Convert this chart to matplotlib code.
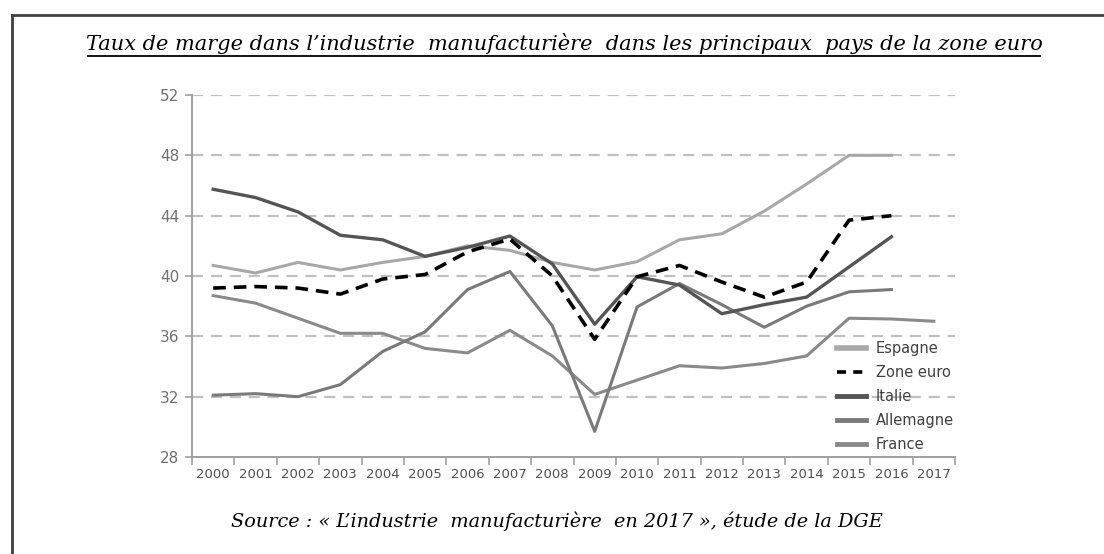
import numpy as np
import matplotlib
matplotlib.use('Agg')
import matplotlib.pyplot as plt
from matplotlib.lines import Line2D

years = ['2000', '2001', '2002', '2003', '2004', '2005', '2006', '2007', '2008',
         '2009', '2010', '2011', '2012', '2013', '2014', '2015', '2016', '2017']

espagne = [40.7, 40.2, 40.9, 40.4, 40.9, 41.3, 42.0, 41.7, 40.9, 40.4, 40.95,
           42.4, 42.8, 44.3, 46.1, 48.0, 48.0]
zone_euro = [39.2, 39.3, 39.2, 38.8, 39.8, 40.1, 41.6, 42.45, 40.0, 35.8, 39.95,
             40.7, 39.6, 38.6, 39.6, 43.7, 44.0]
italie = [45.75, 45.2, 44.25, 42.7, 42.4, 41.3, 41.9, 42.65, 40.8, 36.8, 39.95,
          39.4, 37.5, 38.1, 38.6, 40.6, 42.6]
allemagne = [32.1, 32.2, 32.0, 32.8, 35.0, 36.3, 39.1, 40.3, 36.7, 29.7, 37.95,
             39.5, 38.1, 36.6, 38.0, 38.95, 39.1]
france = [38.7, 38.2, 37.2, 36.2, 36.2, 35.2, 34.9, 36.4, 34.7, 32.15, 33.1,
          34.05, 33.9, 34.2, 34.7, 37.2, 37.15, 37.0]

yticks = [28, 32, 36, 40, 44, 48, 52]

title = "Taux de marge dans l\u2019industrie  manufacturi\u00e8re  dans les principaux  pays de la zone euro"
source = "Source : \u00ab L\u2019industrie  manufacturi\u00e8re  en 2017 \u00bb, \u00e9tude de la DGE"

serif_it = dict(family='DejaVu Serif', style='italic')

fig = plt.figure(figsize=(11.04, 5.54), dpi=100)
ax = fig.add_axes([192 / 1104, 1 - 457 / 554, (955 - 192) / 1104, (457 - 95) / 554])

c_grid = '#c0c0c0'
c_axis = '#a0a0a0'

for v in yticks[1:]:
    ax.axhline(v, color=c_grid, lw=1.6, ls=(0, (5, 3.5)), zorder=0)

x = np.arange(len(years))
ax.plot(x[:len(france)], france, color='#8a8a8a', lw=2.2, label='France', zorder=2)
ax.plot(x[:len(allemagne)], allemagne, color='#7a7a7a', lw=2.2, label='Allemagne', zorder=2)
ax.plot(x[:len(espagne)], espagne, color='#a8a8a8', lw=2.2, label='Espagne', zorder=2)
ax.plot(x[:len(italie)], italie, color='#555555', lw=2.4, label='Italie', zorder=3)
ax.plot(x[:len(zone_euro)], zone_euro, color='black', lw=2.6, ls=(0, (3.5, 2.2)),
        label='Zone euro', zorder=4)

ax.set_xlim(-0.5, len(years) - 0.5)
ax.set_ylim(28, 52)
ax.set_yticks(yticks)
ax.set_yticklabels([str(v) for v in yticks], color='#707070', fontsize=11)
ax.set_xticks(x)
ax.set_xticklabels(years, color='#505050', fontsize=9.5)
ax.tick_params(axis='x', length=0, pad=8)
ax.set_xticks(np.arange(-0.5, len(years), 1.0), minor=True)
ax.tick_params(axis='x', which='minor', length=6, width=1.2, color=c_axis)
ax.tick_params(axis='y', length=5, width=1.2, color=c_axis, pad=4)

for s in ['top', 'right']:
    ax.spines[s].set_visible(False)
for s in ['left', 'bottom']:
    ax.spines[s].set_color(c_axis)
    ax.spines[s].set_linewidth(1.4)

handles = [
    Line2D([], [], color='#a8a8a8', lw=4),
    Line2D([], [], color='black', lw=2.6, ls=(0, (2.5, 2))),
    Line2D([], [], color='#555555', lw=3.5),
    Line2D([], [], color='#7a7a7a', lw=3.5),
    Line2D([], [], color='#8a8a8a', lw=3.5),
]
labels = ['Espagne', 'Zone euro', 'Italie', 'Allemagne', 'France']
leg = ax.legend(handles, labels, loc='lower right', bbox_to_anchor=(1.016, -0.022),
                frameon=False, handlelength=2.0, handletextpad=0.7,
                labelspacing=0.62, prop={'size': 10.5})
for t in leg.get_texts():
    t.set_color('#404040')

# title, underline, source, frame
fig.text(0.511, 1 - 43 / 554, title, ha='center', va='center', fontsize=15, **serif_it)
fig.add_artist(Line2D([88 / 1104, 1040 / 1104], [1 - 56 / 554, 1 - 56 / 554],
                      color='black', lw=1.3))
fig.text(0.504, 1 - 521 / 554, source, ha='center', va='center', fontsize=13.9, **serif_it)
fig.add_artist(Line2D([11.5 / 1104, 1.0], [1 - 14.5 / 554, 1 - 14.5 / 554],
                      color='#404040', lw=2))
fig.add_artist(Line2D([11.5 / 1104, 11.5 / 1104], [1 - 14.5 / 554, 0],
                      color='#404040', lw=2))

fig.savefig('out.png', dpi=100)
